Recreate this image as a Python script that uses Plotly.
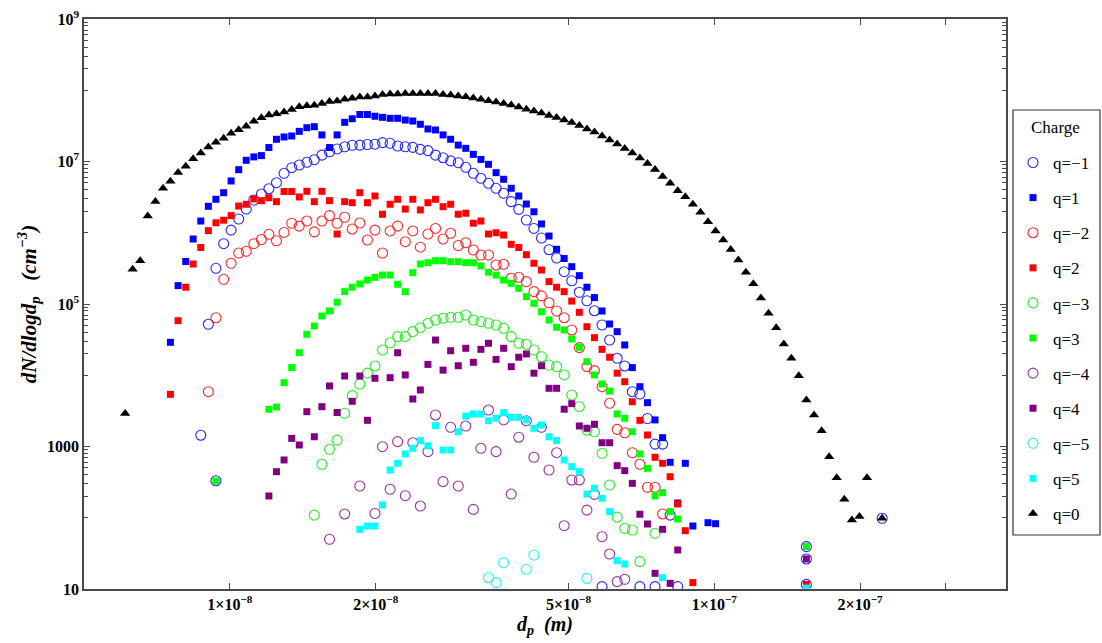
import plotly.graph_objects as go

# SMPS channel mid-point diameters (m), channel index 0..100
dp_channels = [
    6.08e-9, 6.30e-9, 6.53e-9, 6.77e-9, 7.02e-9, 7.28e-9, 7.54e-9, 7.82e-9, 8.11e-9, 8.40e-9,
    8.71e-9, 9.03e-9, 9.36e-9, 9.71e-9, 1.006e-8, 1.043e-8, 1.081e-8, 1.121e-8, 1.162e-8, 1.204e-8,
    1.248e-8, 1.294e-8, 1.342e-8, 1.391e-8, 1.442e-8, 1.494e-8, 1.549e-8, 1.606e-8, 1.665e-8, 1.726e-8,
    1.789e-8, 1.855e-8, 1.923e-8, 1.993e-8, 2.066e-8, 2.142e-8, 2.220e-8, 2.302e-8, 2.386e-8, 2.473e-8,
    2.564e-8, 2.658e-8, 2.755e-8, 2.856e-8, 2.961e-8, 3.069e-8, 3.181e-8, 3.298e-8, 3.419e-8, 3.544e-8,
    3.674e-8, 3.809e-8, 3.948e-8, 4.093e-8, 4.243e-8, 4.398e-8, 4.559e-8, 4.726e-8, 4.899e-8, 5.079e-8,
    5.265e-8, 5.458e-8, 5.657e-8, 5.865e-8, 6.080e-8, 6.302e-8, 6.533e-8, 6.773e-8, 7.021e-8, 7.278e-8,
    7.545e-8, 7.821e-8, 8.107e-8, 8.404e-8, 8.712e-8, 9.031e-8, 9.362e-8, 9.705e-8, 1.006e-7, 1.043e-7,
    1.081e-7, 1.121e-7, 1.162e-7, 1.204e-7, 1.248e-7, 1.294e-7, 1.342e-7, 1.391e-7, 1.442e-7, 1.494e-7,
    1.549e-7, 1.606e-7, 1.665e-7, 1.726e-7, 1.789e-7, 1.855e-7, 1.923e-7, 1.993e-7, 2.066e-7, 2.142e-7,
    2.220e-7,
]

# ---- q = -1 (open circles, blue)
qm1_ch = [10, 11, 12, 12, 13,
          14, 15, 16, 17, 18, 19, 20, 21, 22, 23, 24, 25, 26, 27, 28, 29, 30, 31, 32, 33,
          34, 35, 36, 37, 38, 39, 40, 41, 42, 43, 44, 45, 46, 47, 48, 49, 50, 51, 52, 53,
          54, 55, 56, 57, 58, 59, 60, 61, 62, 63, 64, 65, 66, 67, 68, 69, 70, 71, 72,
          63, 68, 70, 73, 90, 90, 90, 100]
qm1_val = [1.44e3, 5.19e4, 3.17e5, 331, 7.02e5,
           1.09e6, 1.56e6, 2.15e6, 2.88e6, 3.50e6, 4.15e6, 5.04e6, 6.83e6, 8.19e6, 8.93e6,
           9.74e6, 1.06e7, 1.23e7, 1.37e7, 1.50e7, 1.61e7, 1.69e7, 1.70e7, 1.73e7, 1.75e7,
           1.84e7, 1.80e7, 1.65e7, 1.61e7, 1.58e7, 1.48e7, 1.42e7, 1.23e7, 1.13e7, 1.02e7,
           9.62e6, 8.29e6, 6.83e6, 5.81e6, 4.94e6, 4.21e6, 3.58e6, 2.73e6, 2.13e6, 1.51e6,
           1.15e6, 8.44e5, 5.78e5, 4.42e5, 2.84e5, 2.12e5, 1.46e5, 1.11e5, 8.05e4, 5.07e4,
           3.12e4, 1.73e4, 1.35e4, 5.88e3, 5.46e3, 2.47e3, 1.08e3, 1.08e3, 109,
           10.8, 10.8, 10.8, 10.8, 39.3, 26.4, 11.6, 98.3]

# ---- q = 1 (filled squares, blue)
q1_ch = [6, 7, 8, 9, 10, 11, 12, 13, 14, 15, 16, 17, 18, 19, 20, 21, 22, 23, 24, 25,
         26, 27, 28, 29, 30, 31, 32, 33, 34, 35, 36, 37, 38, 39, 40, 41, 42, 43, 44, 45,
         46, 47, 48, 49, 50, 51, 52, 53, 54, 55, 56, 57, 58, 59, 60, 61, 62, 63, 64, 65,
         66, 67, 68, 69, 70, 71, 72, 73, 74, 75, 77, 78]
q1_val = [2.90e4, 1.81e5, 3.95e5, 8.17e5, 1.46e6, 2.35e6, 2.95e6, 3.65e6, 5.33e6, 7.67e6,
          1.04e7, 1.16e7, 1.21e7, 1.57e7, 2.05e7, 2.21e7, 2.28e7, 2.65e7, 2.98e7, 3.08e7,
          2.36e7, 1.57e7, 2.36e7, 3.55e7, 3.98e7, 4.57e7, 4.57e7, 4.32e7, 4.17e7, 4.04e7,
          4.04e7, 3.82e7, 3.70e7, 3.33e7, 2.86e7, 2.77e7, 2.36e7, 2.05e7, 1.70e7, 1.53e7,
          1.26e7, 1.07e7, 9.13e6, 6.97e6, 5.63e6, 4.21e6, 3.28e6, 2.53e6, 1.97e6, 1.33e6,
          9.0e5, 5.86e5, 4.35e5, 3.34e5, 2.50e5, 1.72e5, 1.23e5, 7.98e4, 5.24e4, 4.09e4,
          2.66e4, 1.28e4, 6.91e3, 4.12e3, 2.36e3, 1.33e3, 600, 161, 581, 76.6, 85.2, 82.5]

# ---- q = -2 (open circles, red)
qm2_ch = [11, 12, 13, 14, 15, 16, 17, 18, 19, 20, 21, 22, 23, 24, 25, 26, 27, 28, 29, 30,
          31, 32, 33, 34, 35, 36, 37, 38, 39, 40, 41, 42, 43, 44, 45, 46, 47, 48, 49, 50,
          51, 52, 53, 54, 55, 56, 57, 58, 59, 60, 61, 62, 63, 64, 65, 66, 67, 68, 69, 70, 71]
qm2_val = [5.88e3, 6.42e4, 2.22e5, 3.73e5, 5.20e5, 5.49e5, 7.02e5, 8.04e5, 9.51e5, 7.71e5,
           1.01e6, 1.36e6, 1.24e6, 1.46e6, 1.03e6, 1.46e6, 1.74e6, 1.36e6, 1.65e6, 1.13e6,
           1.37e6, 7.91e5, 1.09e6, 5.20e5, 1.06e6, 1.24e6, 7.49e5, 1.06e6, 6.27e5, 9.60e5,
           1.15e6, 8.17e5, 9.83e5, 6.62e5, 7.25e5, 5.73e5, 4.87e5, 4.87e5, 3.53e5, 3.61e5,
           2.30e5, 2.37e5, 2.06e5, 1.49e5, 1.30e5, 1.04e5, 7.98e4, 6.42e4, 4.32e4, 2.44e4,
           1.32e4, 1.16e4, 6.91e3, 4.04e3, 1.74e3, 1.56e3, 819, 563, 268, 268, 113]

# ---- q = 2 (filled squares, red)
q2_ch = [6, 7, 8, 9, 10, 11, 12, 13, 14, 15, 16, 17, 18, 19, 20, 21, 22, 23, 24, 25,
         26, 27, 28, 29, 30, 31, 32, 33, 34, 35, 36, 37, 38, 39, 40, 41, 42, 43, 44, 45,
         46, 47, 48, 49, 50, 51, 52, 53, 54, 55, 56, 57, 58, 59, 60, 61, 62, 63, 64, 65,
         66, 67, 68, 69, 70, 71, 72, 73, 74, 75, 90]
q2_val = [5.40e3, 5.83e4, 1.72e5, 3.64e5, 6.21e5, 1.07e6, 1.38e6, 1.50e6, 1.74e6, 2.37e6,
          2.51e6, 2.98e6, 2.82e6, 3.10e6, 2.73e6, 3.79e6, 3.79e6, 3.18e6, 3.82e6, 2.73e6,
          3.82e6, 2.82e6, 9.60e5, 2.73e6, 2.64e6, 3.65e6, 2.64e6, 3.28e6, 1.82e6, 2.51e6,
          2.95e6, 2.15e6, 2.95e6, 2.09e6, 2.64e6, 2.95e6, 2.32e6, 2.51e6, 1.82e6, 1.88e6,
          1.36e6, 1.46e6, 9.60e5, 1.00e6, 9.30e5, 6.88e5, 6.21e5, 4.92e5, 3.73e5, 3.00e5,
          2.06e5, 1.72e5, 1.49e5, 1.10e5, 7.65e4, 4.80e4, 3.37e4, 2.31e4, 1.79e4, 1.07e4,
          8.12e3, 4.25e3, 2.33e3, 1.45e3, 706, 581, 377, 156, 65.8, 12.3, 11.6]

# ---- q = -3 (open circles, green)
qm3_ch = [25, 26, 27, 28, 29, 30, 31, 32, 33, 34, 35, 36, 37, 38, 39, 40, 41, 42, 43, 44,
          45, 46, 47, 48, 49, 50, 51, 52, 53, 54, 55, 56, 57, 58, 59, 60, 61, 62, 63, 64,
          65, 66, 67, 68, 70]
qm3_val = [109, 563, 913, 1.23e3, 2.93e3, 5.17e3, 7.54e3, 1.07e4, 1.35e4, 2.26e4,
           2.86e4, 3.48e4, 3.48e4, 4.09e4, 4.65e4, 5.36e4, 5.96e4, 6.30e4, 6.51e4, 6.51e4,
           7.01e4, 5.96e4, 5.65e4, 5.36e4, 5.07e4, 4.56e4, 3.48e4, 2.81e4, 2.72e4, 2.26e4,
           1.82e4, 1.39e4, 1.32e4, 1.01e4, 5.28e3, 3.62e3, 1.70e3, 1.61e3, 803, 288,
           102, 71.1, 67.3, 24.2, 60.5]

# ---- q = 3 (filled squares, green)
q3_ch = [12, 19, 20, 21, 22, 23, 24, 25, 26, 27, 28, 29, 30, 31, 32, 33, 34, 35, 36, 37,
         38, 39, 40, 41, 42, 43, 44, 45, 46, 47, 48, 49, 50, 51, 52, 53, 54, 55, 56, 57,
         58, 59, 60, 61, 62, 63, 64, 65, 66, 67, 68, 69, 70, 71, 72, 73, 90]
q3_val = [328, 3.33e3, 3.58e3, 7.86e3, 1.28e4, 2.07e4, 3.76e4, 4.91e4, 6.79e4, 7.98e4,
          1.06e5, 1.49e5, 1.72e5, 1.91e5, 2.17e5, 2.37e5, 2.55e5, 2.55e5, 1.89e5, 1.49e5,
          2.75e5, 3.64e5, 3.80e5, 4.05e5, 4.05e5, 3.92e5, 3.92e5, 3.80e5, 3.80e5, 3.42e5,
          2.79e5, 2.55e5, 2.17e5, 1.95e5, 1.66e5, 1.27e5, 1.02e5, 7.80e4, 5.96e4, 4.71e4,
          4.32e4, 3.23e4, 2.47e4, 1.55e4, 1.01e4, 7.54e3, 6.01e3, 2.86e3, 2.49e3, 1.61e3,
          785, 494, 202, 225, 122, 96.0, 39.3]

# ---- q = -4 (open circles, purple)
qm4_ch = [27, 29, 31, 33, 34, 35, 36, 37, 38, 39, 40, 41, 42, 43, 44, 45, 46, 47, 48, 49,
          50, 51, 52, 53, 54, 55, 56, 57, 58, 59, 60, 61, 62, 63, 64, 65, 66]
qm4_val = [49.8, 113, 279, 115, 994, 251, 1.17e3, 204, 1.13e3, 146,
           846, 2.77e3, 321, 1.86e3, 279, 1.94e3, 131, 943, 3.25e3, 846,
           2.36e3, 215, 1.35e3, 2.30e3, 706, 1.86e3, 468, 819, 77.4, 339,
           339, 128, 213, 54.2, 31.0, 12.7, 13.7]

# ---- q = 4 (filled squares, purple)
q4_ch = [19, 20, 21, 22, 23, 24, 25, 26, 27, 28, 29, 30, 31, 32, 33, 35, 36, 37, 38, 39,
         40, 41, 42, 43, 44, 45, 46, 47, 48, 49, 50, 51, 52, 53, 54, 55, 56, 57, 58, 59,
         60, 61, 62, 63, 64, 65, 66, 67, 68, 69, 70, 71, 72, 73, 90]
q4_val = [202, 443, 647, 1.30e3, 1.05e3, 3.08e3, 1.37e3, 3.62e3, 7.07e3, 3.00e3,
          9.76e3, 4.31e3, 9.76e3, 2.33e3, 9.06e3, 9.24e3, 2.07e4, 1.01e4, 4.64e3, 6.21e3,
          1.42e4, 3.12e4, 1.18e4, 2.21e4, 1.36e4, 2.39e4, 1.52e4, 2.31e4, 2.81e4, 1.67e4,
          2.39e4, 1.32e4, 1.79e4, 1.99e4, 1.07e4, 1.36e4, 6.56e3, 6.56e3, 3.34e3, 3.99e3,
          1.94e3, 1.80e3, 2.05e3, 1.13e3, 1.13e3, 538, 458, 304, 112, 81.7,
          16.6, 68.8, 12.0, 35.3, 26.4]

# ---- q = -5 (open circles, cyan)
qm5_ch = [48, 49, 50, 53, 54, 61]
qm5_val = [14.4, 12.3, 23.4, 18.9, 30.0, 14.1]

# ---- q = 5 (filled squares, cyan)
q5_ch = [31, 32, 33, 34, 35, 36, 37, 38, 39, 40, 41, 42, 43, 44, 45, 46, 47, 48, 49, 50,
         51, 52, 53, 54, 55, 56, 57, 58, 59, 60, 61, 62, 63, 64, 65, 66, 71, 90]
q5_val = [68.8, 76.6, 76.6, 151, 468, 581, 785, 943, 1.21e3, 1.02e3,
          1.96e3, 893, 893, 1.61e3, 2.68e3, 2.86e3, 2.86e3, 2.30e3, 2.49e3, 2.98e3,
          2.57e3, 2.57e3, 2.36e3, 1.80e3, 2.00e3, 1.37e3, 1.21e3, 647, 521, 443,
          215, 259, 188, 122, 25.0, 22.4, 14.4, 10.3]

# ---- q = 0 (filled triangles, black)
q0_ch = [0, 1, 2, 3, 4, 5, 6, 7, 8, 9, 10, 11, 12, 13, 14, 15, 16, 17, 18, 19,
         20, 21, 22, 23, 24, 25, 26, 27, 28, 29, 30, 31, 32, 33, 34, 35, 36, 37, 38, 39,
         40, 41, 42, 43, 44, 45, 46, 47, 48, 49, 50, 51, 52, 53, 54, 55, 56, 57, 58, 59,
         60, 61, 62, 63, 64, 65, 66, 67, 68, 69, 70, 71, 72, 73, 74, 75, 76, 77, 78, 79,
         80, 81, 82, 83, 84, 85, 86, 87, 88, 89, 90, 91, 92, 93, 94, 95, 96, 97, 98, 100]
q0_val = [2.9e3, 3.07e5, 4.05e5, 1.72e6, 2.75e6, 4.21e6, 5.27e6, 7.01e6, 8.57e6, 1.09e7,
          1.32e7, 1.60e7, 1.86e7, 2.12e7, 2.49e7, 2.79e7, 3.12e7, 3.66e7, 4.10e7, 4.50e7,
          4.69e7, 4.95e7, 5.37e7, 5.88e7, 6.05e7, 6.15e7, 6.52e7, 6.95e7, 7.06e7, 7.46e7,
          7.71e7, 8.04e7, 8.04e7, 8.30e7, 8.71e7, 8.85e7, 8.85e7, 9.0e7, 9.0e7, 9.0e7,
          9.0e7, 9.0e7, 8.71e7, 8.57e7, 8.30e7, 8.11e7, 7.78e7, 7.46e7, 7.13e7, 6.84e7,
          6.52e7, 6.21e7, 5.82e7, 5.41e7, 5.12e7, 4.80e7, 4.42e7, 4.15e7, 3.82e7, 3.52e7,
          3.20e7, 2.86e7, 2.59e7, 2.28e7, 2.00e7, 1.76e7, 1.52e7, 1.32e7, 1.12e7, 9.37e6,
          7.73e6, 6.15e6, 4.94e6, 3.89e6, 3.21e6, 2.51e6, 1.94e6, 1.43e6, 1.06e6, 7.91e5,
          5.82e5, 4.15e5, 2.79e5, 1.93e5, 1.21e5, 7.40e4, 4.65e4, 2.75e4, 1.73e4, 9.86e3,
          4.50e3, 2.77e3, 1.67e3, 719, 365, 182, 92.9, 104, 365, 98.2]

# ---- axes ticks
x_tickvals = [1e-8, 2e-8, 5e-8, 1e-7, 2e-7, 3e-7]
x_ticktext = ["1×10<sup>−8</sup>", "2×10<sup>−8</sup>", "5×10<sup>−8</sup>",
              "1×10<sup>−7</sup>", "2×10<sup>−7</sup>", " "]
y_tickvals = [10, 1e3, 1e5, 1e7, 1e9]
y_ticktext = ["10", "1000", "10<sup>5</sup>", "10<sup>7</sup>", "10<sup>9</sup>"]
y_minor_vals = [100, 200, 300, 400, 500, 600, 700, 800, 900,
                1e4, 2e4, 3e4, 4e4, 5e4, 6e4, 7e4, 8e4, 9e4,
                1e6, 2e6, 3e6, 4e6, 5e6, 6e6, 7e6, 8e6, 9e6,
                1e8, 2e8, 3e8, 4e8, 5e8, 6e8, 7e8, 8e8, 9e8]

series = [
    ("q=−1", qm1_ch, qm1_val, "circle-open", "rgb(40,40,255)", 10),
    ("q=1", q1_ch, q1_val, "square", "rgb(0,0,255)", 7),
    ("q=−2", qm2_ch, qm2_val, "circle-open", "rgb(255,40,40)", 10),
    ("q=2", q2_ch, q2_val, "square", "rgb(255,0,0)", 7),
    ("q=−3", qm3_ch, qm3_val, "circle-open", "rgb(40,235,40)", 10),
    ("q=3", q3_ch, q3_val, "square", "rgb(0,255,0)", 7),
    ("q=−4", qm4_ch, qm4_val, "circle-open", "rgb(150,50,160)", 10),
    ("q=4", q4_ch, q4_val, "square", "rgb(128,0,128)", 7),
    ("q=−5", qm5_ch, qm5_val, "circle-open", "rgb(40,240,240)", 10),
    ("q=5", q5_ch, q5_val, "square", "rgb(0,255,255)", 7),
    ("q=0", q0_ch, q0_val, "triangle-up", "black", 9),
]

fig = go.Figure()
for name, ch, vals, sym, col, size in series:
    xs = [dp_channels[i] for i in ch]
    if sym == "circle-open":
        marker = dict(symbol=sym, size=size, color=col, line=dict(color=col, width=1.1))
    else:
        marker = dict(symbol=sym, size=size, color=col, line=dict(width=0))
    fig.add_trace(go.Scatter(x=xs, y=vals, mode="markers", name=name,
                             legendgroup=name, marker=marker))

axis_font = dict(family="Liberation Serif", size=16, color="black", weight="bold")
frame_col = "#4a4a4a"

fig.update_xaxes(
    type="log", range=[-8.30103, -6.39794],
    tickmode="array", tickvals=x_tickvals, ticktext=x_ticktext,
    ticks="inside", ticklen=6, tickwidth=1, tickcolor=frame_col,
    showline=True, linecolor=frame_col, linewidth=1.5, mirror="ticks",
    showgrid=False, zeroline=False, tickfont=axis_font,
    title=dict(text="<b><i>d<sub>p</sub>  (m)</i></b>",
               font=dict(family="Liberation Serif", size=20, color="black"), standoff=4),
)
fig.update_yaxes(
    type="log", range=[1, 9],
    tickmode="array", tickvals=y_tickvals, ticktext=y_ticktext,
    ticks="inside", ticklen=6, tickwidth=1, tickcolor=frame_col,
    minor=dict(tickmode="array", tickvals=y_minor_vals, ticks="inside", ticklen=4,
               tickwidth=1, tickcolor=frame_col, showgrid=False),
    showline=True, linecolor=frame_col, linewidth=1.5, mirror="ticks",
    showgrid=False, zeroline=False, tickfont=axis_font,
    title=dict(text="<b><i>dN/dlogd<sub>p</sub>   (cm<sup>−3</sup>)</i></b>",
               font=dict(family="Liberation Serif", size=21, color="black"), standoff=5),
)

legend_font = dict(family="Liberation Serif", size=17, color="black")
fig.update_layout(
    width=1102, height=643,
    margin=dict(l=84, r=96, t=19, b=54, autoexpand=False),
    paper_bgcolor="white", plot_bgcolor="white",
    font=dict(family="Liberation Serif", color="black"),
    showlegend=True,
    legend=dict(
        x=1.0076, xanchor="left", y=0.7790, yanchor="top",
        borderwidth=0, bgcolor="rgba(0,0,0,0)",
        font=legend_font, tracegroupgap=10, itemwidth=30,
    ),
    shapes=[dict(type="rect", xref="paper", yref="paper",
                 x0=1.00759, x1=1.10195, y0=0.09474, y1=0.84035,
                 line=dict(color="#333333", width=1.2), fillcolor="rgba(0,0,0,0)")],
    annotations=[dict(text="Charge", xref="paper", yref="paper", x=1.0542, y=0.8100,
                      xanchor="center", yanchor="middle", showarrow=False, font=legend_font)],
)

fig.write_html("out.html", config={"displayModeBar": False},
               post_script="document.body.style.margin='0';")
